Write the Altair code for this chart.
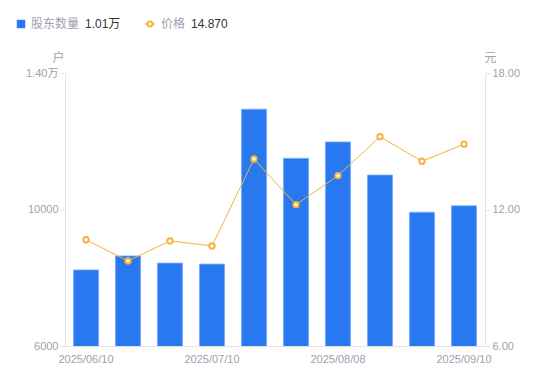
import altair as alt
import pandas as pd

dates = ["2025/06/10", "2025/06/20", "2025/06/30", "2025/07/10", "2025/07/18",
         "2025/07/31", "2025/08/08", "2025/08/20", "2025/08/29", "2025/09/10"]
holders = [8230, 8640, 8430, 8400, 12940, 11500, 11980, 11010, 9920, 10110]
prices = [10.67, 9.74, 10.62, 10.40, 14.22, 12.21, 13.49, 15.20, 14.12, 14.87]
shown_dates = ["2025/06/10", "2025/07/10", "2025/08/08", "2025/09/10"]
holder_ticks = [6000, 10000, 14000]
price_ticks = [6, 12, 18]
legend_names = ["股东数量", "价格"]
legend_values = ["1.01万", "14.870"]

BLUE = "#2878f0"
ORANGE = "#f6b23a"
GRAY = "#a0a0ae"
AXIS = "#e3e3e8"
FONT = "Liberation Sans, 'Noto Sans CJK SC', sans-serif"

df = pd.DataFrame({"date": dates, "holders": holders, "price": prices})

x = alt.X("date:N", sort=dates,
          scale=alt.Scale(paddingInner=0.4, paddingOuter=0.2),
          axis=alt.Axis(values=shown_dates, labelAngle=0, ticks=False, title=None,
                        labelColor=GRAY, labelFontSize=11, labelPadding=7,
                        domainColor=AXIS, labelFont=FONT))

bars = alt.Chart(df).mark_bar(color=BLUE, stroke="#7fb0f7", strokeWidth=0.8, clip=True).encode(
    x=x,
    y=alt.Y("holders:Q",
            scale=alt.Scale(domain=[6000, 14000], nice=False, zero=False),
            axis=alt.Axis(orient="left", values=holder_ticks, grid=False,
                          labelExpr="datum.value >= 14000 ? '1.40万' : datum.value",
                          title="户", titleAngle=0, titleX=-7, titleY=-16,
                          titleAlign="center", titleBaseline="middle",
                          titleColor=GRAY, titleFontSize=12, titleFontWeight="normal",
                          titleFont=FONT,
                          labelColor=GRAY, labelFontSize=11, labelFont=FONT,
                          tickColor=AXIS, tickSize=5, labelPadding=2,
                          domainColor=AXIS)),
)

yp = alt.Y("price:Q",
           scale=alt.Scale(domain=[6, 18], nice=False, zero=False),
           axis=alt.Axis(orient="right", values=price_ticks, format=".2f", grid=False,
                         title="元", titleAngle=0, titleX=5, titleY=-16,
                         titleAlign="center", titleBaseline="middle",
                         titleColor=GRAY, titleFontSize=12, titleFontWeight="normal",
                         titleFont=FONT,
                         labelColor=GRAY, labelFontSize=11, labelFont=FONT,
                         tickColor=AXIS, tickSize=5, labelPadding=2,
                         domainColor=AXIS))

line = alt.Chart(df).mark_line(color=ORANGE, strokeWidth=1).encode(x=x, y=yp)
pts = alt.Chart(df).mark_point(shape="circle", fill="white", stroke=ORANGE,
                               strokeWidth=2, size=28, opacity=1, filled=False).encode(x=x, y=yp)

main = alt.layer(line, pts)

ldf = pd.DataFrame({"name": legend_names, "val": legend_values})
LY = -49
leg_sq = alt.Chart(ldf.iloc[[0]]).mark_square(color=BLUE, size=72, opacity=1).encode(
    x=alt.value(-44), y=alt.value(LY))
leg_n1 = alt.Chart(ldf.iloc[[0]]).mark_text(align="left", baseline="middle", fontSize=12,
                                            color=GRAY, font=FONT).encode(
    x=alt.value(-34), y=alt.value(LY), text="name:N")
leg_v1 = alt.Chart(ldf.iloc[[0]]).mark_text(align="left", baseline="middle", fontSize=12,
                                            color="#333333", font=FONT).encode(
    x=alt.value(20), y=alt.value(LY), text="val:N")
leg_ln = alt.Chart(ldf.iloc[[1]]).mark_rule(color=ORANGE, strokeWidth=1.5).encode(
    x=alt.value(80), x2=alt.value(90), y=alt.value(LY))
leg_pt = alt.Chart(ldf.iloc[[1]]).mark_point(shape="circle", fill="white", stroke=ORANGE,
                                             strokeWidth=2, size=24, opacity=1).encode(
    x=alt.value(85), y=alt.value(LY))
leg_n2 = alt.Chart(ldf.iloc[[1]]).mark_text(align="left", baseline="middle", fontSize=12,
                                            color=GRAY, font=FONT).encode(
    x=alt.value(96), y=alt.value(LY), text="name:N")
leg_v2 = alt.Chart(ldf.iloc[[1]]).mark_text(align="left", baseline="middle", fontSize=12,
                                            color="#333333", font=FONT).encode(
    x=alt.value(126), y=alt.value(LY), text="val:N")

legend = alt.layer(leg_sq, leg_n1, leg_v1, leg_ln, leg_pt, leg_n2, leg_v2)

chart = alt.layer(bars, main, legend).resolve_scale(y="independent").properties(
    width=420, height=273,
    autosize=alt.AutoSizeParams(type="none"),
    padding={"left": 57, "top": 65, "right": 57, "bottom": 27},
).configure_view(stroke=None)

chart.save("out.html", embed_options={"renderer": "svg", "actions": False})
